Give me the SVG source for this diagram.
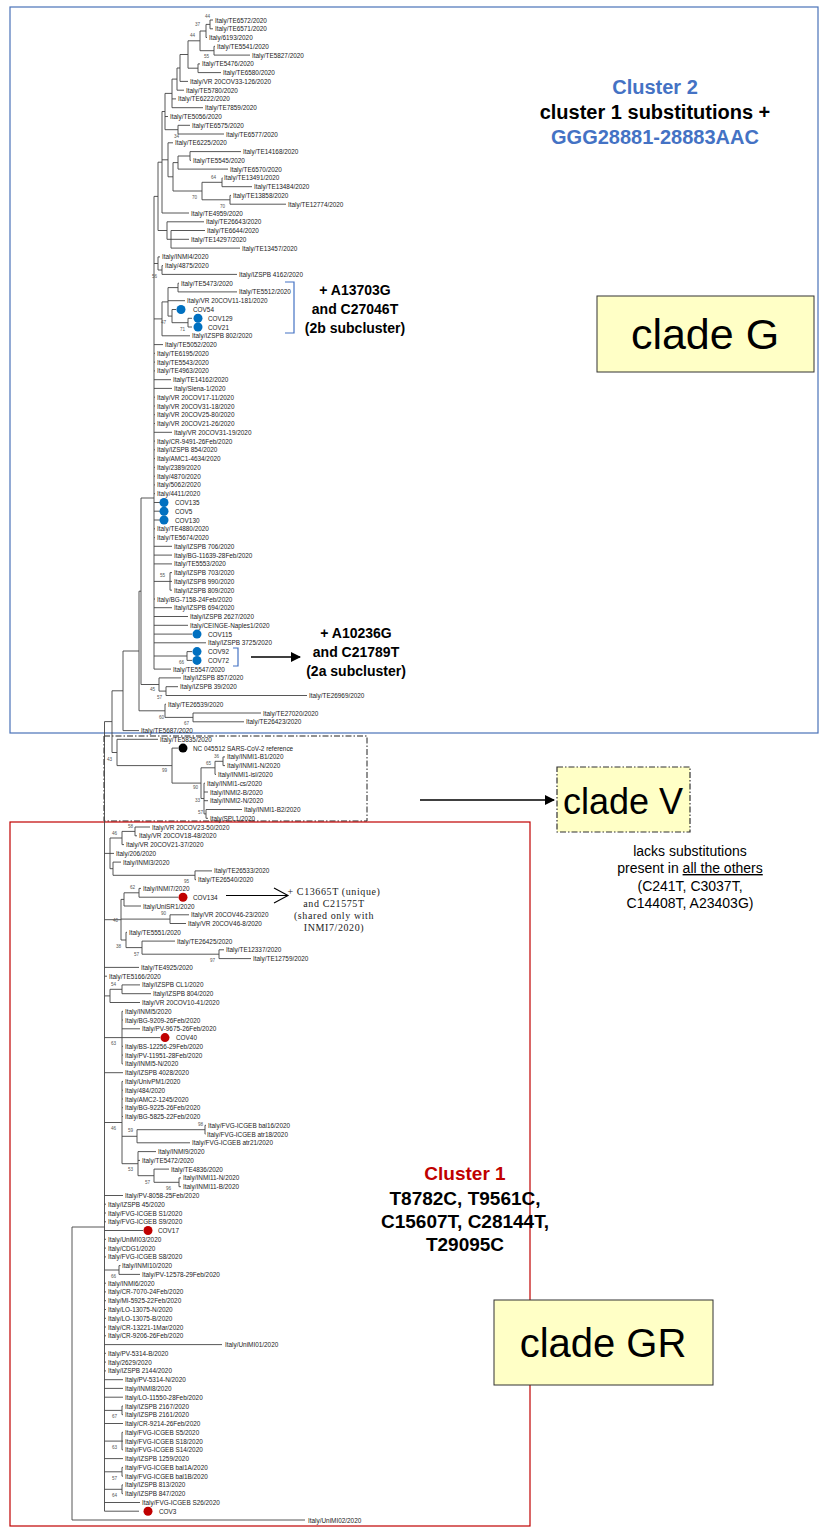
<svg xmlns="http://www.w3.org/2000/svg" width="826" height="1527" viewBox="0 0 826 1527">
<style>
.t{font-family:"Liberation Sans",Arial,sans-serif;font-size:6.4px;fill:#222;dominant-baseline:central}
.b{font-family:"Liberation Sans",Arial,sans-serif;font-size:4.6px;fill:#555}
.e{fill:none;stroke:#444;stroke-width:0.9}
.bd{fill:#0070c0}
.rd{fill:#c00000}
.big{font-family:"Liberation Sans",Arial,sans-serif;font-weight:bold;text-anchor:middle}
.cl{font-family:"Liberation Sans",Arial,sans-serif;text-anchor:middle;fill:#000}
.ser{font-family:"Liberation Serif","Times New Roman",serif;font-size:10px;letter-spacing:0.6px;text-anchor:middle;fill:#222}
</style>
<defs>
<marker id="tri" markerWidth="10" markerHeight="10" refX="9" refY="5" orient="auto" markerUnits="userSpaceOnUse"><path d="M0,0 L10,5 L0,10 Z" fill="#000"/></marker>
</defs>
<rect width="826" height="1527" fill="#fff"/>
<g id="boxes">
<rect x="10" y="7" width="808" height="726" fill="none" stroke="#4a72b8" stroke-width="1.2"/>
<rect x="104" y="736" width="263" height="85" fill="none" stroke="#222" stroke-width="1" stroke-dasharray="6,2,1.5,2"/>
<rect x="10" y="822" width="520" height="704" fill="none" stroke="#c00000" stroke-width="1.2"/>
</g>
<g id="connectors">
<path class="e" d="M210 20H213M210 28.8H213M210 20V28.8M206 24.4H210M206 37.5H207M206 24.4V37.5M200 31H206M214 46.3H215M214 55.1H250M214 46.3V55.1M200 50.7H214M200 31V50.7M188 40.8H200M198 63.9H200M198 72.6H221M198 63.9V72.6M188 68.2H198M188 40.8V68.2M180 54.5H188M180 81.4H188M180 54.5V81.4M177 68H180M177 90.2H184M177 68V90.2M172 79.1H177M172 98.9H176M172 107.7H203M172 79.1V107.7M165 93.4H172M165 116.5H168M178 125.3H190M178 134H224M178 125.3V134M165 129.7H178M165 93.4V129.7M162 111.5H165M168 142.8H173M190 151.6H241M190 160.4H191M190 151.6V160.4M178 156H190M178 169.1H228M178 156V169.1M173 162.6H178M222 177.9H222.5M222 186.7H252M222 177.9V186.7M202 182.3H222M230 195.4H231M230 204.2H286M230 195.4V204.2M202 199.8H230M202 182.3V199.8M173 191H202M173 162.6V191M168 176.8H173M168 142.8V176.8M162 159.8H168M162 213H189M162 111.5V213M158 162.2H162M167 221.8H204M171 230.5H205M171 239.3H189M171 248.1H240M171 230.5V248.1M167 239.3H171M167 221.8V239.3M158 230.5H167M158 162.2V230.5M154 196.4H158M158 256.9H160M162 265.6H163M162 274.4H237M162 265.6V274.4M158 270H162M158 256.9V270M154 263.5H158M178 283.2H179M178 291.9H237M178 283.2V291.9M168 287.6H178M168 300.7H185M172 309.5H176M188 318.3H192M188 327H192M188 318.3V327M172 322.7H188M172 309.5V322.7M168 316.1H172M168 287.6V316.1M162 301.9H168M162 335.8H190M162 301.9V335.8M154 318.9H162"/>
<path class="e" d="M154 344.6H163M154 353.3H155M154 362.1H155M154 370.9H155M154 379.7H171M154 388.4H172M154 397.2H155M154 406H155M154 414.7H155M154 423.5H155M154 432.3H172M154 441.1H155M154 449.8H155M154 458.6H155M154 467.4H155M154 476.2H155M154 484.9H155M154 493.7H155M154 502.5H160M154 511.2H160M154 520H160M154 528.8H155M154 537.6H155M154 546.3H172M154 555.1H172M154 563.9H172M170 572.6H172M170 581.4H172M170 590.2H172M170 572.6V590.2M154 581.4H170M154 599H155M154 607.7H172M154 616.5H188M154 625.3H188M154 634.1H192M154 642.8H206M187 651.6H192M187 660.4H192M187 651.6V660.4M154 656H187M154 669.1H171M154 196.4V669.1M141 498H154M159 677.9H181M166 686.7H178M166 695.5H307M166 686.7V695.5M159 691.1H166M159 677.9V691.1M141 684.5H159M141 498V684.5M139 591.2H141M165 704.2H166M193 713H261M193 721.8H244M193 713V721.8M165 717.4H193M165 704.2V717.4M139 710.8H165M139 591.2V710.8M123 651H139M123 730.6H139M123 651V730.6M112 690.8H123"/>
<path class="e" d="M117 739.3H158M172 748.1H178M223 756.9H225M223 765.6H225M223 756.9V765.6M215 761.3H223M215 774.4H216M215 761.3V774.4M201 767.8H215M204 783.2H205M204 792H208M204 800.7H208M206 809.5H242M206 818.3H208M206 809.5V818.3M204 813.9H206M204 783.2V813.9M201 798.5H204M201 767.8V798.5M172 783.1H201M172 748.1V783.1M117 765.6H172M117 739.3V765.6M112 752.5H117M112 690.8V752.5M104.5 721.6H112"/>
<path class="e" d="M135 827H150M135 835.8H137M135 827V835.8M122 831.4H135M122 844.6H124M122 831.4V844.6M110 838H122M110 853.4H114M113 862.1H121M195 870.9H212M195 879.7H196M195 870.9V879.7M113 875.3H195M113 862.1V875.3M110 868.7H113M110 838V868.7M104.5 853.4H110M139 888.4H141M139 897.2H178M139 888.4V897.2M124 892.8H139M124 906H141M124 892.8V906M121 899.4H124M170 914.8H189M170 923.5H186M170 914.8V923.5M121 919.1H170M126 932.3H127M142 941.1H175M219 949.8H224M219 958.6H251M219 949.8V958.6M142 954.2H219M142 941.1V954.2M126 947.6H142M126 932.3V947.6M121 940H126M121 899.4V940M104.5 919.7H121M104.5 967.4H139M104.5 976.2H107M122 984.9H140M122 993.7H151M122 984.9V993.7M110 989.3H122M110 1002.5H140M110 989.3V1002.5M104.5 995.9H110"/>
<path class="e" d="M122 1011.3H123M122 1020H123M122 1028.8H140M122 1037.6H160M122 1046.3H123M122 1055.1H123M122 1063.9H123M122 1011.3V1063.9M104.5 1037.6H122M104.5 1072.7H123M122 1081.4H123M122 1090.2H123M122 1099H123M122 1107.7H123M122 1116.5H123M205 1125.3H206M205 1134.1H205.5M205 1125.3V1134.1M137 1129.7H205M137 1142.8H190M137 1129.7V1142.8M122 1136.3H137M138 1151.6H156M138 1160.4H140M154 1169.1H169M179 1177.9H181M179 1186.7H181M179 1177.9V1186.7M154 1182.3H179M154 1169.1V1182.3M138 1175.7H154M138 1151.6V1175.7M122 1163.7H138M122 1081.4V1163.7M104.5 1122.5H122M104.5 1195.5H123M104.5 1204.2H106M104.5 1213H106M104.5 1221.8H106M104.5 1230.5H143M104.5 1239.3H106M104.5 1248.1H106M104.5 1256.9H106M119 1265.6H120.5M119 1274.4H140M119 1265.6V1274.4M104.5 1270H119M104.5 1283.2H106M104.5 1291.9H106M104.5 1300.7H106M104.5 1309.5H106M104.5 1318.3H106M104.5 1327H106M104.5 1335.8H106M104.5 1344.6H222M104.5 1353.3H106M104.5 1362.1H106M104.5 1370.9H106M104.5 1379.7H123M104.5 1388.4H123M104.5 1397.2H123M122 1406H123M122 1414.7H123M122 1406V1414.7M104.5 1410.4H122M104.5 1423.5H123M122 1432.3H123M122 1441.1H123M122 1449.8H123M122 1432.3V1449.8M104.5 1441.1H122M104.5 1458.6H123M122 1467.4H123M122 1476.2H123M122 1467.4V1476.2M104.5 1471.8H122M122 1484.9H123M122 1493.7H123M122 1484.9V1493.7M104.5 1489.3H122M104.5 1502.5H140M104.5 1511.2H139M104.5 721.6V1511.2M72 1227V1520M72 1227H104.5M72 1520H305"/>
<path d="M226 895.5H287M274 888L288 895.5L274 903" fill="none" stroke="#000" stroke-width="1.1"/>
<line x1="251" y1="657" x2="300" y2="657" stroke="#000" stroke-width="1.3" marker-end="url(#tri)"/>
<line x1="420" y1="800" x2="554" y2="800" stroke="#000" stroke-width="1.3" marker-end="url(#tri)"/>
<path d="M285 282H294V333H285" fill="none" stroke="#4472c4" stroke-width="1.2"/>
<path d="M233 648H238V666H233" fill="none" stroke="#4472c4" stroke-width="1.2"/>
</g>
<g id="bootstrap">
<text class="b" x="205" y="18">44</text><text class="b" x="195" y="26">37</text><text class="b" x="190" y="37">44</text><text class="b" x="204" y="58">55</text>
<text class="b" x="174" y="138">34</text><text class="b" x="211" y="179">64</text><text class="b" x="192" y="199">70</text><text class="b" x="220" y="208">70</text>
<text class="b" x="152" y="278">56</text><text class="b" x="161" y="324">47</text><text class="b" x="180" y="331">71</text><text class="b" x="160" y="577">55</text>
<text class="b" x="179" y="664">66</text><text class="b" x="150" y="691">45</text><text class="b" x="157" y="699">57</text><text class="b" x="159" y="719">60</text><text class="b" x="184" y="725">67</text>
<text class="b" x="107" y="761">43</text><text class="b" x="214" y="758">36</text><text class="b" x="206" y="765">65</text><text class="b" x="162" y="772">99</text>
<text class="b" x="193" y="789">90</text><text class="b" x="195" y="802">33</text><text class="b" x="198" y="814">57</text>
<text class="b" x="128" y="828">58</text><text class="b" x="112" y="835">46</text><text class="b" x="184" y="883">95</text><text class="b" x="130" y="889">62</text>
<text class="b" x="161" y="915">90</text><text class="b" x="113" y="922">40</text><text class="b" x="116" y="948">38</text><text class="b" x="134" y="956">57</text><text class="b" x="210" y="962">97</text>
<text class="b" x="111" y="986">54</text><text class="b" x="111" y="1045">63</text><text class="b" x="198" y="1126">98</text><text class="b" x="128" y="1132">59</text><text class="b" x="111" y="1130">46</text>
<text class="b" x="128" y="1171">53</text><text class="b" x="145" y="1184">57</text><text class="b" x="166" y="1190">96</text><text class="b" x="111" y="1278">66</text>
<text class="b" x="112" y="1418">67</text><text class="b" x="112" y="1449">63</text><text class="b" x="112" y="1480">57</text><text class="b" x="112" y="1497">64</text>
</g>
<g id="leaves">
<g id="L1"><text class="t" x="215" y="20">Italy/TE6572/2020</text></g>
<g id="L2"><text class="t" x="215" y="28.8">Italy/TE6571/2020</text></g>
<g id="L3"><text class="t" x="209" y="37.5">Italy/6193/2020</text></g>
<g id="L4"><text class="t" x="217" y="46.3">Italy/TE5541/2020</text></g>
<g id="L5"><text class="t" x="252" y="55.1">Italy/TE5827/2020</text></g>
<g id="L6"><text class="t" x="202" y="63.9">Italy/TE5476/2020</text></g>
<g id="L7"><text class="t" x="223" y="72.6">Italy/TE6580/2020</text></g>
<g id="L8"><text class="t" x="190" y="81.4">Italy/VR 20COV33-126/2020</text></g>
<g id="L9"><text class="t" x="186" y="90.2">Italy/TE5780/2020</text></g>
<g id="L10"><text class="t" x="178" y="98.9">Italy/TE6222/2020</text></g>
<g id="L11"><text class="t" x="205" y="107.7">Italy/TE7859/2020</text></g>
<g id="L12"><text class="t" x="170" y="116.5">Italy/TE5056/2020</text></g>
<g id="L13"><text class="t" x="192" y="125.3">Italy/TE6575/2020</text></g>
<g id="L14"><text class="t" x="226" y="134">Italy/TE6577/2020</text></g>
<g id="L15"><text class="t" x="175" y="142.8">Italy/TE6225/2020</text></g>
<g id="L16"><text class="t" x="243" y="151.6">Italy/TE14168/2020</text></g>
<g id="L17"><text class="t" x="193" y="160.4">Italy/TE5545/2020</text></g>
<g id="L18"><text class="t" x="230" y="169.1">Italy/TE6570/2020</text></g>
<g id="L19"><text class="t" x="224" y="177.9">Italy/TE13491/2020</text></g>
<g id="L20"><text class="t" x="254" y="186.7">Italy/TE13484/2020</text></g>
<g id="L21"><text class="t" x="233" y="195.4">Italy/TE13858/2020</text></g>
<g id="L22"><text class="t" x="288" y="204.2">Italy/TE12774/2020</text></g>
<g id="L23"><text class="t" x="191" y="213">Italy/TE4959/2020</text></g>
<g id="L24"><text class="t" x="206" y="221.8">Italy/TE26643/2020</text></g>
<g id="L25"><text class="t" x="207" y="230.5">Italy/TE6644/2020</text></g>
<g id="L26"><text class="t" x="191" y="239.3">Italy/TE14297/2020</text></g>
<g id="L27"><text class="t" x="242" y="248.1">Italy/TE13457/2020</text></g>
<g id="L28"><text class="t" x="162" y="256.9">Italy/INMI4/2020</text></g>
<g id="L29"><text class="t" x="165" y="265.6">Italy/4875/2020</text></g>
<g id="L30"><text class="t" x="239" y="274.4">Italy/IZSPB 4162/2020</text></g>
<g id="L31"><text class="t" x="181" y="283.2">Italy/TE5473/2020</text></g>
<g id="L32"><text class="t" x="239" y="291.9">Italy/TE5512/2020</text></g>
<g id="L33"><text class="t" x="187" y="300.7">Italy/VR 20COV11-181/2020</text></g>
<g id="L34"><circle class="bd" cx="181" cy="309.5" r="4.5"/><text class="t" x="193" y="309.5">COV54</text></g>
<g id="L35"><circle class="bd" cx="198" cy="318.3" r="4.5"/><text class="t" x="208" y="318.3">COV129</text></g>
<g id="L36"><circle class="bd" cx="198" cy="327" r="4.5"/><text class="t" x="208" y="327">COV21</text></g>
<g id="L37"><text class="t" x="192" y="335.8">Italy/IZSPB 802/2020</text></g>
<g id="L38"><text class="t" x="165" y="344.6">Italy/TE5052/2020</text></g>
<g id="L39"><text class="t" x="157" y="353.3">Italy/TE6195/2020</text></g>
<g id="L40"><text class="t" x="157" y="362.1">Italy/TE5543/2020</text></g>
<g id="L41"><text class="t" x="157" y="370.9">Italy/TE4963/2020</text></g>
<g id="L42"><text class="t" x="173" y="379.7">Italy/TE14162/2020</text></g>
<g id="L43"><text class="t" x="174" y="388.4">Italy/Siena-1/2020</text></g>
<g id="L44"><text class="t" x="157" y="397.2">Italy/VR 20COV17-11/2020</text></g>
<g id="L45"><text class="t" x="157" y="406">Italy/VR 20COV31-18/2020</text></g>
<g id="L46"><text class="t" x="157" y="414.7">Italy/VR 20COV25-80/2020</text></g>
<g id="L47"><text class="t" x="157" y="423.5">Italy/VR 20COV21-26/2020</text></g>
<g id="L48"><text class="t" x="174" y="432.3">Italy/VR 20COV31-19/2020</text></g>
<g id="L49"><text class="t" x="157" y="441.1">Italy/CR-9491-26Feb/2020</text></g>
<g id="L50"><text class="t" x="157" y="449.8">Italy/IZSPB 854/2020</text></g>
<g id="L51"><text class="t" x="157" y="458.6">Italy/AMC1-4634/2020</text></g>
<g id="L52"><text class="t" x="157" y="467.4">Italy/2389/2020</text></g>
<g id="L53"><text class="t" x="157" y="476.2">Italy/4870/2020</text></g>
<g id="L54"><text class="t" x="157" y="484.9">Italy/5062/2020</text></g>
<g id="L55"><text class="t" x="157" y="493.7">Italy/4411/2020</text></g>
<g id="L56"><circle class="bd" cx="164" cy="502.5" r="4.5"/><text class="t" x="175" y="502.5">COV135</text></g>
<g id="L57"><circle class="bd" cx="164" cy="511.2" r="4.5"/><text class="t" x="175" y="511.2">COV5</text></g>
<g id="L58"><circle class="bd" cx="164" cy="520" r="4.5"/><text class="t" x="175" y="520">COV130</text></g>
<g id="L59"><text class="t" x="157" y="528.8">Italy/TE4880/2020</text></g>
<g id="L60"><text class="t" x="157" y="537.6">Italy/TE5674/2020</text></g>
<g id="L61"><text class="t" x="174" y="546.3">Italy/IZSPB 706/2020</text></g>
<g id="L62"><text class="t" x="174" y="555.1">Italy/BG-11639-28Feb/2020</text></g>
<g id="L63"><text class="t" x="174" y="563.9">Italy/TE5553/2020</text></g>
<g id="L64"><text class="t" x="174" y="572.6">Italy/IZSPB 703/2020</text></g>
<g id="L65"><text class="t" x="174" y="581.4">Italy/IZSPB 990/2020</text></g>
<g id="L66"><text class="t" x="174" y="590.2">Italy/IZSPB 809/2020</text></g>
<g id="L67"><text class="t" x="157" y="599">Italy/BG-7158-24Feb/2020</text></g>
<g id="L68"><text class="t" x="174" y="607.7">Italy/IZSPB 694/2020</text></g>
<g id="L69"><text class="t" x="190" y="616.5">Italy/IZSPB 2627/2020</text></g>
<g id="L70"><text class="t" x="190" y="625.3">Italy/CEINGE-Naples1/2020</text></g>
<g id="L71"><circle class="bd" cx="197" cy="634.1" r="4.5"/><text class="t" x="208" y="634.1">COV115</text></g>
<g id="L72"><text class="t" x="208" y="642.8">Italy/IZSPB 3725/2020</text></g>
<g id="L73"><circle class="bd" cx="197" cy="651.6" r="4.5"/><text class="t" x="208" y="651.6">COV92</text></g>
<g id="L74"><circle class="bd" cx="197" cy="660.4" r="4.5"/><text class="t" x="208" y="660.4">COV72</text></g>
<g id="L75"><text class="t" x="173" y="669.1">Italy/TE5547/2020</text></g>
<g id="L76"><text class="t" x="183" y="677.9">Italy/IZSPB 857/2020</text></g>
<g id="L77"><text class="t" x="180" y="686.7">Italy/IZSPB 39/2020</text></g>
<g id="L78"><text class="t" x="309" y="695.5">Italy/TE26969/2020</text></g>
<g id="L79"><text class="t" x="168" y="704.2">Italy/TE26539/2020</text></g>
<g id="L80"><text class="t" x="263" y="713">Italy/TE27020/2020</text></g>
<g id="L81"><text class="t" x="246" y="721.8">Italy/TE26423/2020</text></g>
<g id="L82"><text class="t" x="141" y="730.6">Italy/TE5687/2020</text></g>
<g id="L83"><text class="t" x="160" y="739.3">Italy/TE5835/2020</text></g>
<g id="L84"><circle fill="#000" cx="183" cy="748.1" r="4.5"/><text class="t" x="193" y="748.1">NC 045512 SARS-CoV-2 reference</text></g>
<g id="L85"><text class="t" x="227" y="756.9">Italy/INMI1-B1/2020</text></g>
<g id="L86"><text class="t" x="227" y="765.6">Italy/INMI1-N/2020</text></g>
<g id="L87"><text class="t" x="218" y="774.4">Italy/INMI1-isl/2020</text></g>
<g id="L88"><text class="t" x="207" y="783.2">Italy/INMI1-cs/2020</text></g>
<g id="L89"><text class="t" x="210" y="792">Italy/INMI2-B/2020</text></g>
<g id="L90"><text class="t" x="210" y="800.7">Italy/INMI2-N/2020</text></g>
<g id="L91"><text class="t" x="244" y="809.5">Italy/INMI1-B2/2020</text></g>
<g id="L92"><text class="t" x="210" y="818.3">Italy/SPL1/2020</text></g>
<g id="L93"><text class="t" x="152" y="827">Italy/VR 20COV23-50/2020</text></g>
<g id="L94"><text class="t" x="139" y="835.8">Italy/VR 20COV18-48/2020</text></g>
<g id="L95"><text class="t" x="126" y="844.6">Italy/VR 20COV21-37/2020</text></g>
<g id="L96"><text class="t" x="116" y="853.4">Italy/206/2020</text></g>
<g id="L97"><text class="t" x="123" y="862.1">Italy/INMI3/2020</text></g>
<g id="L98"><text class="t" x="214" y="870.9">Italy/TE26533/2020</text></g>
<g id="L99"><text class="t" x="198" y="879.7">Italy/TE26540/2020</text></g>
<g id="L100"><text class="t" x="143" y="888.4">Italy/INMI7/2020</text></g>
<g id="L101"><circle class="rd" cx="183" cy="897.2" r="4.5"/><text class="t" x="193" y="897.2">COV134</text></g>
<g id="L102"><text class="t" x="143" y="906">Italy/UniSR1/2020</text></g>
<g id="L103"><text class="t" x="191" y="914.8">Italy/VR 20COV46-23/2020</text></g>
<g id="L104"><text class="t" x="188" y="923.5">Italy/VR 20COV46-8/2020</text></g>
<g id="L105"><text class="t" x="129" y="932.3">Italy/TE5551/2020</text></g>
<g id="L106"><text class="t" x="177" y="941.1">Italy/TE26425/2020</text></g>
<g id="L107"><text class="t" x="226" y="949.8">Italy/TE12337/2020</text></g>
<g id="L108"><text class="t" x="253" y="958.6">Italy/TE12759/2020</text></g>
<g id="L109"><text class="t" x="141" y="967.4">Italy/TE4925/2020</text></g>
<g id="L110"><text class="t" x="109" y="976.2">Italy/TE5166/2020</text></g>
<g id="L111"><text class="t" x="142" y="984.9">Italy/IZSPB CL1/2020</text></g>
<g id="L112"><text class="t" x="153" y="993.7">Italy/IZSPB 804/2020</text></g>
<g id="L113"><text class="t" x="142" y="1002.5">Italy/VR 20COV10-41/2020</text></g>
<g id="L114"><text class="t" x="125" y="1011.3">Italy/INMI5/2020</text></g>
<g id="L115"><text class="t" x="125" y="1020">Italy/BG-9209-26Feb/2020</text></g>
<g id="L116"><text class="t" x="142" y="1028.8">Italy/PV-9675-26Feb/2020</text></g>
<g id="L117"><circle class="rd" cx="165" cy="1037.6" r="4.5"/><text class="t" x="176" y="1037.6">COV40</text></g>
<g id="L118"><text class="t" x="125" y="1046.3">Italy/BS-12256-29Feb/2020</text></g>
<g id="L119"><text class="t" x="125" y="1055.1">Italy/PV-11951-28Feb/2020</text></g>
<g id="L120"><text class="t" x="125" y="1063.9">Italy/INMI5-N/2020</text></g>
<g id="L121"><text class="t" x="125" y="1072.7">Italy/IZSPB 4028/2020</text></g>
<g id="L122"><text class="t" x="125" y="1081.4">Italy/UnivPM1/2020</text></g>
<g id="L123"><text class="t" x="125" y="1090.2">Italy/484/2020</text></g>
<g id="L124"><text class="t" x="125" y="1099">Italy/AMC2-1245/2020</text></g>
<g id="L125"><text class="t" x="125" y="1107.7">Italy/BG-9225-26Feb/2020</text></g>
<g id="L126"><text class="t" x="125" y="1116.5">Italy/BG-5825-22Feb/2020</text></g>
<g id="L127"><text class="t" x="208" y="1125.3">Italy/FVG-ICGEB bal16/2020</text></g>
<g id="L128"><text class="t" x="207" y="1134.1">Italy/FVG-ICGEB atr18/2020</text></g>
<g id="L129"><text class="t" x="192" y="1142.8">Italy/FVG-ICGEB atr21/2020</text></g>
<g id="L130"><text class="t" x="158" y="1151.6">Italy/INMI9/2020</text></g>
<g id="L131"><text class="t" x="142" y="1160.4">Italy/TE5472/2020</text></g>
<g id="L132"><text class="t" x="171" y="1169.1">Italy/TE4836/2020</text></g>
<g id="L133"><text class="t" x="183" y="1177.9">Italy/INMI11-N/2020</text></g>
<g id="L134"><text class="t" x="183" y="1186.7">Italy/INMI11-B/2020</text></g>
<g id="L135"><text class="t" x="125" y="1195.5">Italy/PV-8058-25Feb/2020</text></g>
<g id="L136"><text class="t" x="108" y="1204.2">Italy/IZSPB 45/2020</text></g>
<g id="L137"><text class="t" x="108" y="1213">Italy/FVG-ICGEB S1/2020</text></g>
<g id="L138"><text class="t" x="108" y="1221.8">Italy/FVG-ICGEB S9/2020</text></g>
<g id="L139"><circle class="rd" cx="148" cy="1230.5" r="4.5"/><text class="t" x="158" y="1230.5">COV17</text></g>
<g id="L140"><text class="t" x="108" y="1239.3">Italy/UniMI03/2020</text></g>
<g id="L141"><text class="t" x="108" y="1248.1">Italy/CDG1/2020</text></g>
<g id="L142"><text class="t" x="108" y="1256.9">Italy/FVG-ICGEB S8/2020</text></g>
<g id="L143"><text class="t" x="122" y="1265.6">Italy/INMI10/2020</text></g>
<g id="L144"><text class="t" x="142" y="1274.4">Italy/PV-12578-29Feb/2020</text></g>
<g id="L145"><text class="t" x="108" y="1283.2">Italy/INMI6/2020</text></g>
<g id="L146"><text class="t" x="108" y="1291.9">Italy/CR-7070-24Feb/2020</text></g>
<g id="L147"><text class="t" x="108" y="1300.7">Italy/MI-5925-22Feb/2020</text></g>
<g id="L148"><text class="t" x="108" y="1309.5">Italy/LO-13075-N/2020</text></g>
<g id="L149"><text class="t" x="108" y="1318.3">Italy/LO-13075-B/2020</text></g>
<g id="L150"><text class="t" x="108" y="1327">Italy/CR-13221-1Mar/2020</text></g>
<g id="L151"><text class="t" x="108" y="1335.8">Italy/CR-9206-26Feb/2020</text></g>
<g id="L152"><text class="t" x="225" y="1344.6">Italy/UniMI01/2020</text></g>
<g id="L153"><text class="t" x="108" y="1353.3">Italy/PV-5314-B/2020</text></g>
<g id="L154"><text class="t" x="108" y="1362.1">Italy/2629/2020</text></g>
<g id="L155"><text class="t" x="108" y="1370.9">Italy/IZSPB 2144/2020</text></g>
<g id="L156"><text class="t" x="125" y="1379.7">Italy/PV-5314-N/2020</text></g>
<g id="L157"><text class="t" x="125" y="1388.4">Italy/INMI8/2020</text></g>
<g id="L158"><text class="t" x="125" y="1397.2">Italy/LO-11550-28Feb/2020</text></g>
<g id="L159"><text class="t" x="125" y="1406">Italy/IZSPB 2167/2020</text></g>
<g id="L160"><text class="t" x="125" y="1414.7">Italy/IZSPB 2161/2020</text></g>
<g id="L161"><text class="t" x="125" y="1423.5">Italy/CR-9214-26Feb/2020</text></g>
<g id="L162"><text class="t" x="125" y="1432.3">Italy/FVG-ICGEB S5/2020</text></g>
<g id="L163"><text class="t" x="125" y="1441.1">Italy/FVG-ICGEB S18/2020</text></g>
<g id="L164"><text class="t" x="125" y="1449.8">Italy/FVG-ICGEB S14/2020</text></g>
<g id="L165"><text class="t" x="125" y="1458.6">Italy/IZSPB 1259/2020</text></g>
<g id="L166"><text class="t" x="125" y="1467.4">Italy/FVG-ICGEB bal1A/2020</text></g>
<g id="L167"><text class="t" x="125" y="1476.2">Italy/FVG-ICGEB bal1B/2020</text></g>
<g id="L168"><text class="t" x="125" y="1484.9">Italy/IZSPB 813/2020</text></g>
<g id="L169"><text class="t" x="125" y="1493.7">Italy/IZSPB 847/2020</text></g>
<g id="L170"><text class="t" x="142" y="1502.5">Italy/FVG-ICGEB S26/2020</text></g>
<g id="L171"><circle class="rd" cx="148" cy="1511.2" r="4.5"/><text class="t" x="159" y="1511.2">COV3</text></g>
<g id="L172"><text class="t" x="308" y="1520">Italy/UniMI02/2020</text></g>
</g>
<g id="cluster2">
<text class="big" x="655" y="94" font-size="20" fill="#4472c4">Cluster 2</text>
<text class="big" x="655" y="119" font-size="20" fill="#000">cluster 1 substitutions +</text>
<text class="big" x="655" y="144" font-size="20" fill="#4472c4">GGG28881-28883AAC</text>
</g>
<g id="sub2b">
<text class="big" x="355" y="295" font-size="14" fill="#000">+ A13703G</text>
<text class="big" x="355" y="314" font-size="14" fill="#000">and C27046T</text>
<text class="big" x="355" y="333" font-size="14" fill="#000">(2b subcluster)</text>
</g>
<g id="sub2a">
<text class="big" x="356" y="638" font-size="14" fill="#000">+ A10236G</text>
<text class="big" x="356" y="657" font-size="14" fill="#000">and C21789T</text>
<text class="big" x="356" y="676" font-size="14" fill="#000">(2a subcluster)</text>
</g>
<g id="cladeG">
<rect x="597" y="296" width="217" height="76" fill="#ffffc6" stroke="#333" stroke-width="1"/>
<text class="cl" x="705" y="349" font-size="43">clade G</text>
</g>
<g id="cladeV">
<rect x="557" y="767" width="133" height="65" fill="#ffffc6" stroke="#333" stroke-width="1.2" stroke-dasharray="6,2,1.5,2"/>
<text class="cl" x="623" y="814" font-size="36">clade V</text>
<text class="cl" x="690" y="856" font-size="14">lacks substitutions</text>
<text class="cl" x="690" y="873" font-size="14">present in <tspan text-decoration="underline">all the others</tspan></text>
<text class="cl" x="690" y="891" font-size="14">(C241T, C3037T,</text>
<text class="cl" x="690" y="908" font-size="14">C14408T, A23403G)</text>
</g>
<g id="cov134note">
<text class="ser" x="334" y="895">+ C13665T (unique)</text>
<text class="ser" x="334" y="907">and C21575T</text>
<text class="ser" x="334" y="919">(shared only with</text>
<text class="ser" x="334" y="931">INMI7/2020)</text>
</g>
<g id="cluster1">
<text class="big" x="465" y="1180" font-size="19" fill="#c00000">Cluster 1</text>
<text class="big" x="465" y="1205" font-size="19" fill="#000">T8782C, T9561C,</text>
<text class="big" x="465" y="1228" font-size="19" fill="#000">C15607T, C28144T,</text>
<text class="big" x="465" y="1251" font-size="19" fill="#000">T29095C</text>
</g>
<g id="cladeGR">
<rect x="494" y="1300" width="219" height="85" fill="#ffffc6" stroke="#333" stroke-width="1"/>
<text class="cl" x="603" y="1357" font-size="40">clade GR</text>
</g>
</svg>
